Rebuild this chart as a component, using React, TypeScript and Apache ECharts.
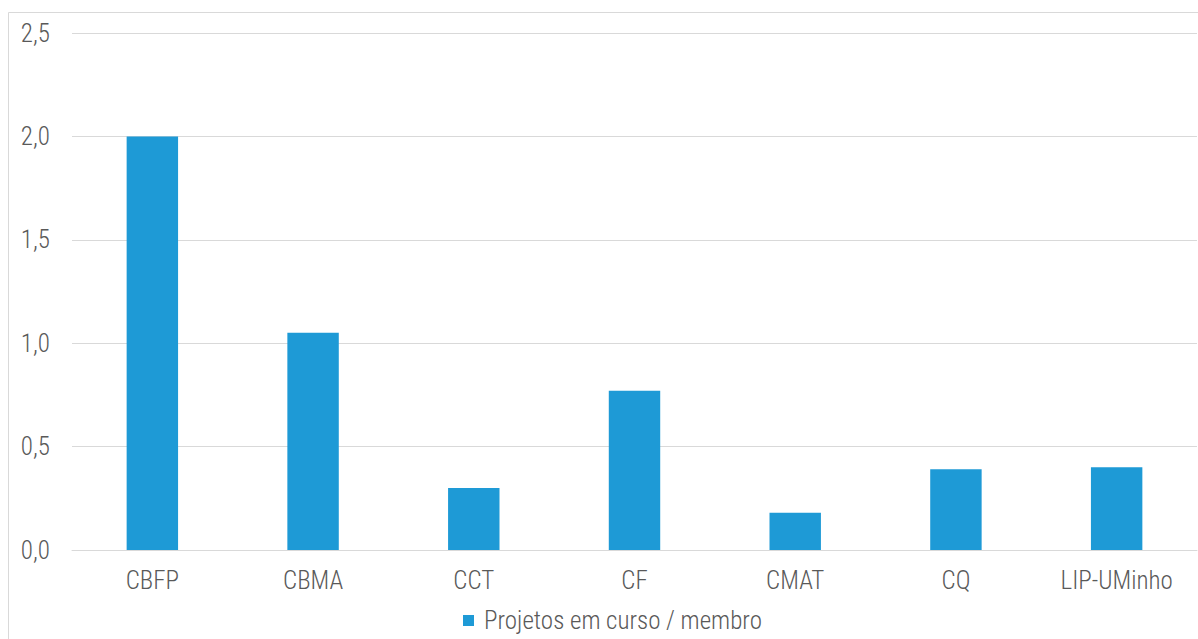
import React, { useEffect, useRef } from "react";
import * as echarts from "echarts";

const categories = ["CBFP", "CBMA", "CCT", "CF", "CMAT", "CQ", "LIP-UMinho"];
const values = [2.0, 1.05, 0.3, 0.77, 0.18, 0.39, 0.4];
const seriesName = "Projetos em curso / membro";
const fontFamily = "'Roboto Condensed', 'Liberation Sans Narrow', sans-serif";

export default function App() {
  const ref = useRef<HTMLDivElement>(null);
  useEffect(() => {
    const chart = echarts.init(ref.current!, undefined, { renderer: "svg" });
    chart.setOption({
      animation: false,
      textStyle: { fontFamily },
      graphic: [
        {
          type: "rect",
          shape: { x: 8.5, y: 12.5, width: 1300, height: 700 },
          style: { fill: "none", stroke: "#d9d9d9", lineWidth: 1 },
          silent: true,
        },
      ],
      grid: { left: 72, right: 1, top: 33, bottom: 89, containLabel: false },
      legend: {
        left: 458,
        top: 603,
        itemWidth: 11,
        itemHeight: 11,
        icon: "rect",
        textStyle: { fontSize: 25, color: "#595959", fontFamily, fontWeight: 300, padding: [0, 0, 0, 5] },
        data: [seriesName],
      },
      xAxis: {
        type: "category",
        data: categories,
        axisLine: { lineStyle: { color: "#d9d9d9", width: 1 } },
        axisTick: { show: false },
        axisLabel: { fontSize: 25, color: "#595959", margin: 18, fontFamily, fontWeight: 300 },
      },
      yAxis: {
        type: "value",
        min: 0,
        max: 2.5,
        interval: 0.5,
        axisLine: { show: false },
        axisTick: { show: false },
        splitLine: { lineStyle: { color: "#d9d9d9", width: 1 } },
        axisLabel: {
          fontSize: 25,
          color: "#595959",
          margin: 22,
          fontFamily,
          fontWeight: 300,
          formatter: (v: number) => v.toFixed(1).replace(".", ","),
        },
      },
      series: [
        {
          name: seriesName,
          type: "bar",
          data: values,
          barWidth: "32%",
          itemStyle: { color: "#1e9ad6" },
        },
      ],
    });
    return () => chart.dispose();
  }, []);
  return (
    <div
      ref={ref}
      style={{ position: "absolute", left: 0, top: 0, width: 1198, height: 639, background: "#fff" }}
    />
  );
}
